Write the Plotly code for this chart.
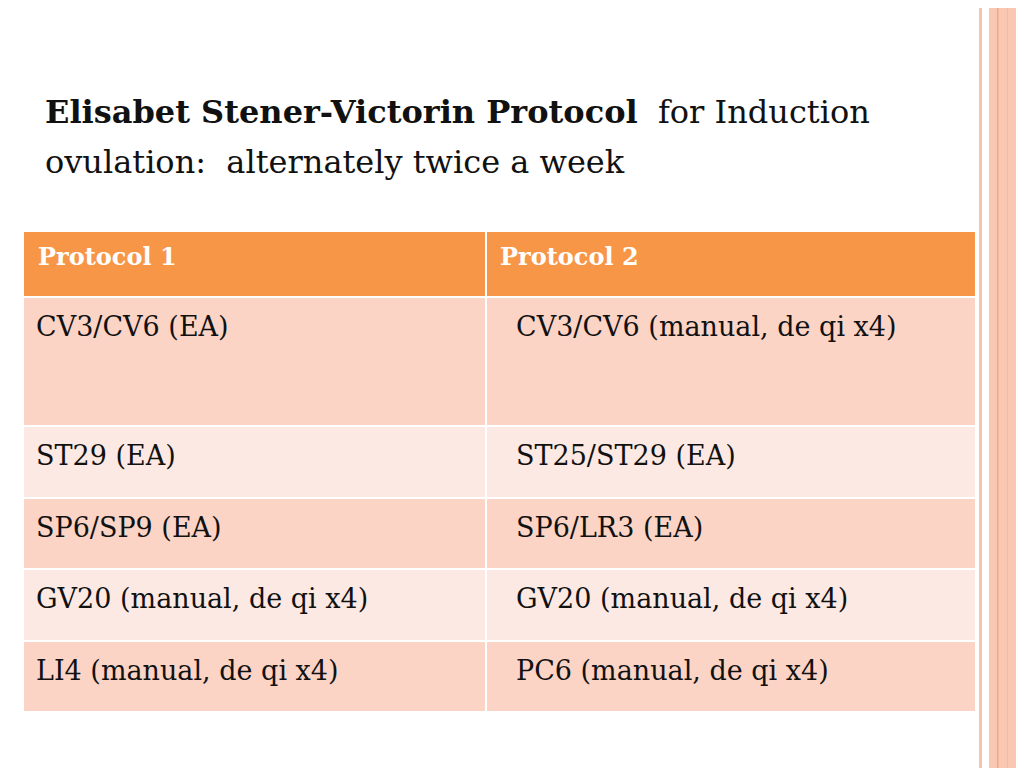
import plotly.graph_objects as go

title_bold = "Elisabet Stener-Victorin Protocol"
title_rest = " for Induction"
title_line2 = "ovulation:  alternately twice a week"
headers = ["Protocol 1", "Protocol 2"]
col1 = ["CV3/CV6 (EA)", "ST29 (EA)", "SP6/SP9 (EA)", "GV20 (manual, de qi x4)", "LI4 (manual, de qi x4)"]
col2 = ["CV3/CV6 (manual, de qi x4)", "ST25/ST29 (EA)", "SP6/LR3 (EA)", "GV20 (manual, de qi x4)", "PC6 (manual, de qi x4)"]

# layout (pixels)
row_tops = [298, 427, 499, 570, 642]
row_bots = [425, 497, 568, 640, 711]
X0, XM, X1 = 24, 486, 975
HEAD_T, HEAD_B = 232, 296
row_colors = ["#FBD4C6", "#FDE9E3"]
FONT = "DejaVu Serif"
OFF = 8  # page body margin compensation

shapes, ann = [], []
def rect(x0, y0, x1, y1, c):
    shapes.append(dict(type="rect", x0=x0, x1=x1, y0=y0, y1=y1, xref="x", yref="y",
                       fillcolor=c, line=dict(width=0), layer="below"))

rect(6, -20, 8, 800, "#F9C9B5")
rect(979, -20, 982, 800, "#F9C2AA")
rect(989, -20, 1040, 800, "#FAC8B2")
rect(997, -20, 998.5, 800, "#F4A584")
rect(1007, -20, 1008, 800, "#F7B89C")

rect(X0, HEAD_T, XM - 1, HEAD_B, "#F79646")
rect(XM + 1, HEAD_T, X1, HEAD_B, "#F79646")
for x, h in zip([36, 498], headers):
    ann.append(dict(x=x, y=(HEAD_T + HEAD_B) / 2 - 8, text=f"<b>{h}</b>", xanchor="left",
                    font=dict(family=FONT, size=24, color="white")))
for i, (a, b) in enumerate(zip(col1, col2)):
    t, bt = row_tops[i], row_bots[i]
    c = row_colors[i % 2]
    rect(X0, t, XM - 1, bt, c)
    rect(XM + 1, t, X1, bt, c)
    ann.append(dict(x=34, y=t + 28, text=a, xanchor="left", font=dict(family=FONT, size=27, color="#111")))
    ann.append(dict(x=514, y=t + 28, text=b, xanchor="left", font=dict(family=FONT, size=27, color="#111")))

ann.append(dict(x=43, y=112, text=f"<b>{title_bold}</b> {title_rest}", xanchor="left",
                font=dict(family=FONT, size=32, color="#111")))
ann.append(dict(x=43, y=162, text=title_line2, xanchor="left",
                font=dict(family=FONT, size=32, color="#111")))
for a in ann:
    a.update(xref="x", yref="y", showarrow=False, yanchor="middle")

fig = go.Figure()
fig.update_layout(width=1024, height=768, margin=dict(l=0, r=0, t=0, b=0),
                  paper_bgcolor="white", plot_bgcolor="white",
                  xaxis=dict(range=[OFF, 1024 + OFF], visible=False, fixedrange=True),
                  yaxis=dict(range=[768 + OFF, OFF], visible=False, fixedrange=True),
                  shapes=shapes, annotations=ann, showlegend=False)
fig.write_html("out.html")
